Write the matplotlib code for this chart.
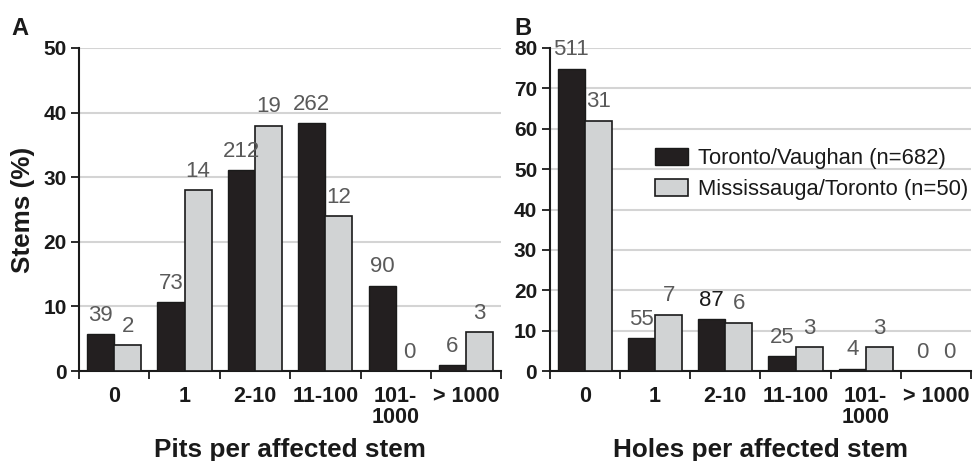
import matplotlib.pyplot as plt
import numpy as np

plt.rcParams['font.family'] = ['Liberation Sans', 'DejaVu Sans']

categories = ['0', '1', '2-10', '11-100', '101-\n1000', '> 1000']
series_names = ['Toronto/Vaughan (n=682)', 'Mississauga/Toronto (n=50)']

# panel A - pits
pits_tv = [5.7, 10.7, 31.1, 38.4, 13.2, 0.9]
pits_mt = [4.0, 28.0, 38.0, 24.0, 0.0, 6.0]
pits_tv_n = [39, 73, 212, 262, 90, 6]
pits_mt_n = [2, 14, 19, 12, 0, 3]

# panel B - holes
holes_tv = [74.9, 8.1, 12.8, 3.7, 0.6, 0.0]
holes_mt = [62.0, 14.0, 12.0, 6.0, 6.0, 0.0]
holes_tv_n = [511, 55, 87, 25, 4, 0]
holes_mt_n = [31, 7, 6, 3, 3, 0]

dark = '#231f20'
light = '#d1d3d4'
lblcol = '#5a5a5a'

fig = plt.figure(figsize=(9.73, 4.61), dpi=100)
axA = fig.add_axes([0.0812, 0.195, 0.434, 0.701])
axB = fig.add_axes([0.565, 0.195, 0.433, 0.701])


def draw(ax, v1, v2, n1, n2, ymax, xlabel, dark_labels=()):
    x = np.arange(len(categories))
    w = 0.385
    ax.bar(x - w / 2, v1, w, color=dark, edgecolor='#1a1a1a', linewidth=1.0,
           label=series_names[0], zorder=3)
    ax.bar(x + w / 2, v2, w, color=light, edgecolor='#1a1a1a', linewidth=1.2,
           label=series_names[1], zorder=3)
    for i in range(len(x)):
        c = '#1a1a1a' if (0, i) in dark_labels else lblcol
        ax.annotate(str(n1[i]), (x[i] - w / 2, v1[i]), xytext=(0, 6),
                    textcoords='offset points', ha='center', va='bottom',
                    fontsize=16, color=c, zorder=4)
        ax.annotate(str(n2[i]), (x[i] + w / 2, v2[i]), xytext=(0, 6),
                    textcoords='offset points', ha='center', va='bottom',
                    fontsize=16, color=lblcol, zorder=4)
    ax.set_xlim(-0.5, len(x) - 0.5)
    ax.set_ylim(0, ymax)
    ax.set_yticks(np.arange(0, ymax + 1, 10))
    ax.yaxis.grid(True, color='#d4d4d4', linewidth=1.5, zorder=0)
    ax.set_axisbelow(True)
    ax.set_xticks(np.arange(-0.5, len(x), 1.0))
    ax.set_xticklabels([])
    ax.set_xticks(x, minor=True)
    ax.set_xticklabels(categories, minor=True, fontweight='bold', fontsize=15.5,
                       color='#1a1a1a', linespacing=1.0)
    ax.tick_params(axis='x', which='major', length=6, width=1.3, color='#1a1a1a')
    ax.tick_params(axis='x', which='minor', length=0, pad=11)
    ax.tick_params(axis='y', length=6, width=1.3, color='#1a1a1a', pad=3,
                   labelsize=15, labelcolor='#1a1a1a')
    for t in ax.get_yticklabels():
        t.set_fontweight('bold')
    for s in ['top', 'right']:
        ax.spines[s].set_visible(False)
    for s in ['left', 'bottom']:
        ax.spines[s].set_linewidth(1.5)
        ax.spines[s].set_color('#1a1a1a')
    ax.set_xlabel(xlabel, fontsize=18.8, fontweight='bold', color='#1a1a1a',
                  labelpad=7)


draw(axA, pits_tv, pits_mt, pits_tv_n, pits_mt_n, 50, 'Pits per affected stem')
draw(axB, holes_tv, holes_mt, holes_tv_n, holes_mt_n, 80, 'Holes per affected stem',
     dark_labels=[(0, 2)])

axA.set_ylabel('Stems (%)', fontsize=18.8, fontweight='bold', color='#1a1a1a',
               labelpad=6)

leg = axB.legend(loc='upper left', bbox_to_anchor=(0.25, 0.69), frameon=False,
                 fontsize=15.8, handlelength=1.5, handleheight=0.8,
                 handletextpad=0.45, labelspacing=0.45, borderaxespad=0,
                 borderpad=0)
for t in leg.get_texts():
    t.set_color('#1a1a1a')

fig.text(0.012, 0.925, 'A', fontsize=17, fontweight='bold', color='#1a1a1a')
fig.text(0.529, 0.925, 'B', fontsize=17, fontweight='bold', color='#1a1a1a')

fig.savefig('out.png', dpi=100)
